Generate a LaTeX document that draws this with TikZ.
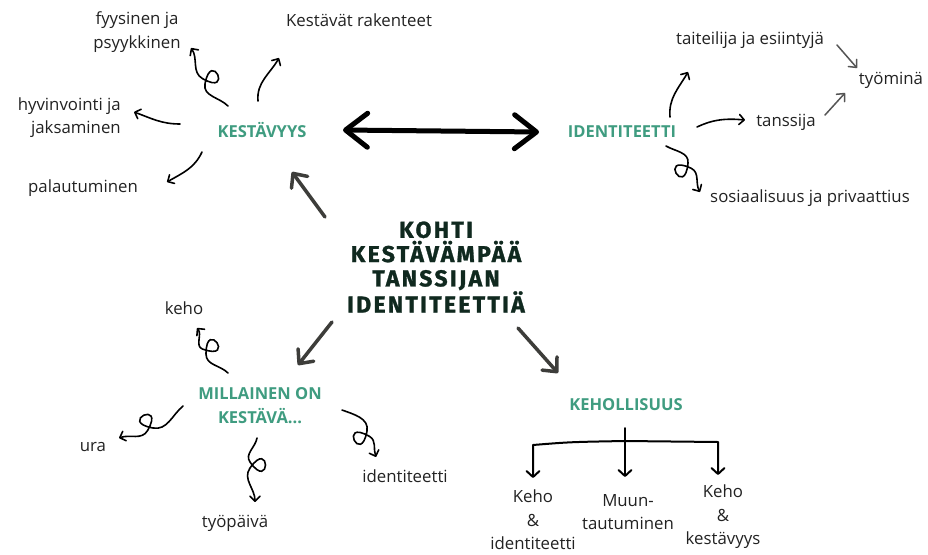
\documentclass[tikz,border=0pt]{standalone}
\usepackage{fontspec}
\setmainfont{Open Sans}
\newfontfamily\titlefont[LetterSpace=10,FakeBold=1.2]{Fira Sans}
\usetikzlibrary{arrows.meta,calc}
\definecolor{tealc}{HTML}{3F9C80}
\definecolor{ink}{HTML}{222222}
\definecolor{titlec}{HTML}{10291F}
\definecolor{garrow}{HTML}{3D3D3A}
\definecolor{lgarrow}{HTML}{555555}
\tikzset{
  txt/.style={font=\fontsize{16.8}{23.5}\selectfont, text=ink, inner sep=0pt, align=center},
  lab/.style={font=\fontsize{16.5}{24}\selectfont\bfseries, text=tealc, inner sep=0pt, align=center},
  ttl/.style={font=\titlefont\fontsize{23}{24.3}\selectfont\bfseries, text=titlec, inner sep=0pt, align=center},
  curl/.style={line width=1.6pt, draw=black, line cap=round, -{Straight Barb[length=5pt,width=10pt,round]}},
  lp/.style={distance=36pt},
  thinar/.style={line width=1.5pt, draw=lgarrow, line cap=round, -{Straight Barb[length=6pt,width=11pt,round]}},
  midar/.style={line width=3.5pt, draw=garrow, line cap=round, -{Straight Barb[length=11pt,width=20pt,round]}},
  bigar/.style={line width=5pt, line cap=round, {Straight Barb[length=22pt,width=34pt,round]}-{Straight Barb[length=22pt,width=34pt,round]}},
  treear/.style={line width=2pt, line cap=round, line join=round}
}
\begin{document}
\begin{tikzpicture}[x=1pt,y=-1pt]
\fill[white] (0,0) rectangle (928,554);
\useasboundingbox (0,0) rectangle (928,554);

% title and category labels
\node[ttl] (title) at (436,267) {KOHTI\\KESTÄVÄMPÄÄ\\TANSSIJAN\\IDENTITEETTIÄ};
\node[lab, anchor=base] (kest) at (262,137) {KESTÄVYYS};
\node[lab, anchor=base] (ident) at (622,137) {IDENTITEETTI};
\node[lab] (mill) at (260,406) {MILLAINEN ON\\KESTÄVÄ...};
\node[lab, anchor=base] (kehol) at (626,410) {KEHOLLISUUS};

% leaf texts
\node[txt] (fyys) at (137,32) {fyysinen ja\\psyykkinen};
\node[txt, anchor=base] (rak) at (359,26) {Kestävät rakenteet};
\node[txt, align=right, anchor=east] (hyv) at (121,117.6) {hyvinvointi ja\\jaksaminen};
\node[txt, anchor=base] (pal) at (83,192) {palautuminen};
\node[txt, anchor=base] (tait) at (750,44) {taiteilija ja esiintyjä};
\node[txt, anchor=base] (tyom) at (891,84) {työminä};
\node[txt, anchor=base] (tans) at (786,126) {tanssija};
\node[txt, anchor=base] (sos) at (810,202) {sosiaalisuus ja privaattius};
\node[txt, anchor=base] (keho) at (184,314) {keho};
\node[txt, anchor=base] (ura) at (93,451) {ura};
\node[txt, anchor=base] (tyop) at (235,527) {työpäivä};
\node[txt, anchor=base] (iden2) at (405,482) {identiteetti};
\node[txt] (ki) at (533,520) {Keho\\\&\\identiteetti};
\node[txt] (muun) at (628,512) {Muun-\\tautuminen};
\node[txt] (kk) at (723,517) {Keho\\\&\\kestävyys};

% connector end points
\coordinate (bigL) at (343,130);
\coordinate (bigR) at (539,132);
\coordinate (t1s) at (325,217); \coordinate (t1e) at (292,172);
\coordinate (t2s) at (332,322); \coordinate (t2e) at (298,365);
\coordinate (t3s) at (518,328); \coordinate (t3e) at (558,373);

% big double arrow
\draw[bigar] (bigL) -- (bigR);
% title arrows
\draw[midar] (t1s) -- (t1e);
\draw[midar] (t2s) -- (t2e);
\draw[midar] (t3s) -- (t3e);

% KESTÄVYYS branches
\draw[curl] (228,106) to[out=135,in=-100] (205,84) to[out=80,in=-30,lp] (202.5,78.6) to[out=150,in=-55] (191,48);
\draw[curl] (258,101) to[out=95,in=-120] (279,58);
\draw[curl] (180,124) to[out=180,in=-20] (134,112);
\draw[curl] (202,152) to[out=-115,in=30] (167,182);

% IDENTITEETTI branches
\draw[curl] (670,117) to[out=95,in=-120] (688,72);
\draw[curl] (697,127) to[out=25,in=175] (745,120);
\draw[curl] (666,146) to[out=-30,in=85] (688,163) to[out=-95,in=155,lp] (691,168.2) to[out=-25,in=120] (700,192);
\draw[thinar] (837,45) -- (857,68);
\draw[thinar] (825,115) -- (845,93);

% MILLAINEN ON branches
\draw[curl] (228,373) to[out=135,in=-90] (206,354) to[out=90,in=-20,lp] (202.6,349.1) to[out=160,in=-50] (197,328);
\draw[curl] (183,406) to[out=-140,in=-10] (153,428) to[out=170,in=60,lp] (147.6,430.5) to[out=-120,in=20] (119,438);
\draw[curl] (257,438) to[out=-100,in=125] (250,462) to[out=-55,in=55,lp] (250,468) to[out=-125,in=90] (255,502);
\draw[curl] (342,410) to[out=-20,in=80] (367,431) to[out=-100,in=150,lp] (369.5,436.4) to[out=-30,in=110] (376,457);

% KEHOLLISUUS tree
\draw[treear, {Straight Barb[length=6pt,width=13pt,round]}-{Straight Barb[length=6pt,width=13pt,round]}] (533,478) -- (533,445) .. controls (570,442) .. (625,441) -- (718,442) -- (718,475);
\draw[treear, -{Straight Barb[length=6pt,width=13pt,round]}] (625,428) -- (625,477);
\end{tikzpicture}
\end{document}
